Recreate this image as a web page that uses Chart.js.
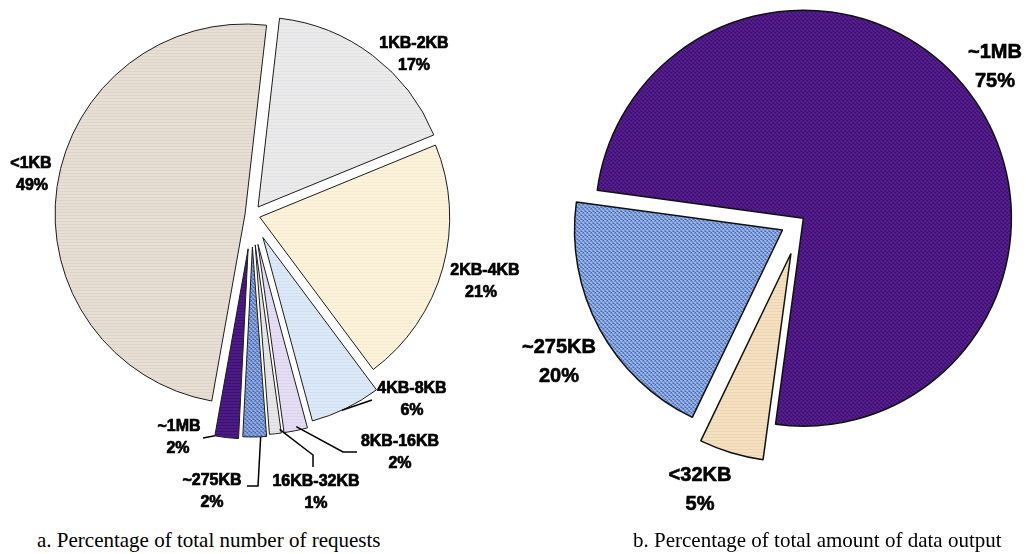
<!DOCTYPE html>
<html>
<head>
<meta charset="utf-8">
<script src="https://cdn.jsdelivr.net/npm/chart.js@4.4.1/dist/chart.umd.min.js"></script>
<style>
  html, body { margin: 0; padding: 0; background: #ffffff; }
  body { width: 1026px; height: 554px; position: relative; overflow: hidden; }
  canvas { position: absolute; top: 0; }
  #requests { left: 0; }
  #output { left: 500px; }
  .caption {
    position: absolute; top: 528px; line-height: 24px;
    font-family: "Liberation Serif", "Times New Roman", serif;
    font-size: 21px; color: #000; white-space: nowrap;
  }
</style>
</head>
<body>
<canvas id="requests" width="540" height="520"></canvas>
<canvas id="output" width="526" height="520"></canvas>
<div class="caption" style="left:37px">a. Percentage of total number of requests</div>
<div class="caption" style="left:633px">b. Percentage of total amount of data output</div>

<script>
// ---- data ----
const requestSizes  = ['1KB-2KB', '2KB-4KB', '4KB-8KB', '8KB-16KB', '16KB-32KB', '~275KB', '~1MB', '<1KB'];
const requestShares = [17, 21, 6, 2, 1, 2, 2, 49];

const outputSizes  = ['~1MB', '<32KB', '~275KB'];
const outputShares = [75, 5, 20];

// ---- fills: small tiles give the slices a printed texture ----
function tile(w, h, painter) {
  const c = document.createElement('canvas');
  c.width = w; c.height = h;
  const g = c.getContext('2d');
  painter(g);
  return g.createPattern(c, 'repeat');
}
function stripes(base, line) {
  return tile(1, 3, g => {
    g.fillStyle = base; g.fillRect(0, 0, 1, 3);
    g.fillStyle = line; g.fillRect(0, 2, 1, 1);
  });
}
function weave(a, b, c) {
  return tile(4, 4, g => {
    g.fillStyle = a; g.fillRect(0, 0, 4, 4);
    g.fillStyle = b; g.fillRect(0, 0, 2, 1); g.fillRect(2, 2, 2, 1); g.fillRect(1, 1, 1, 1); g.fillRect(3, 3, 1, 1);
    g.fillStyle = c; g.fillRect(3, 0, 1, 1); g.fillRect(1, 3, 1, 1);
  });
}

const requestFills = [
  stripes('#ebebeb', '#e2e2e4'),   // 1KB-2KB
  stripes('#fcf3da', '#f5ead2'),   // 2KB-4KB
  stripes('#dce9f8', '#d2dff0'),   // 4KB-8KB
  stripes('#e5def5', '#dad3ec'),   // 8KB-16KB
  stripes('#e8e8ea', '#dcdcdf'),   // 16KB-32KB
  weave('#6b89c9', '#8eabe3', '#4d66a3'), // ~275KB
  stripes('#4c1b86', '#3d1170'),   // ~1MB
  stripes('#e8dfd4', '#ddd3cb')    // <1KB
];
const outputFills = [
  weave('#4a167f', '#561f8f', '#3a0e68'), // ~1MB
  stripes('#f5e0bf', '#ead4b3'),          // <32KB
  weave('#7191d1', '#98b5ea', '#4d68a6')  // ~275KB
];

// ---- exploded slices: push each arc outward along its mid angle ----
const explodePlugin = {
  id: 'explode',
  afterDatasetUpdate(chart, args, opts) {
    const dist = opts.distances || [];
    chart.getDatasetMeta(args.index).data.forEach((arc, i) => {
      const mid = (arc.startAngle + arc.endAngle) / 2;
      const d = dist[i] || 0;
      arc.x += Math.cos(mid) * d;
      arc.y += Math.sin(mid) * d;
    });
  }
};

// ---- two-line slice labels with optional leader lines ----
const labelPlugin = {
  id: 'sliceLabels',
  afterDraw(chart, args, opts) {
    const ctx = chart.ctx;
    const area = chart.chartArea;
    const cx = (area.left + area.right) / 2;
    const cy = (area.top + area.bottom) / 2;
    const meta = chart.getDatasetMeta(0);
    const names = chart.data.labels;
    const values = chart.data.datasets[0].data;
    ctx.save();
    ctx.font = opts.font;
    ctx.fillStyle = '#000';
    ctx.textAlign = 'center';
    ctx.textBaseline = 'middle';
    opts.items.forEach((it, i) => {
      if (!it) return;
      const arc = meta.data[i];
      if (it.leader) {
        const a = arc.startAngle + it.leader.t * (arc.endAngle - arc.startAngle);
        const r = arc.outerRadius * it.leader.f;
        ctx.beginPath();
        ctx.moveTo(arc.x + Math.cos(a) * r, arc.y + Math.sin(a) * r);
        it.leader.path.forEach(p => ctx.lineTo(cx + p[0], cy + p[1]));
        ctx.lineWidth = 1.5;
        ctx.strokeStyle = '#000';
        ctx.stroke();
      }
      const x = cx + it.at[0], y = cy + it.at[1];
      const lines = [[names[i], x, y], [values[i] + '%', x + (it.dx2 || 0), y + opts.lineHeight]];
      ctx.lineWidth = opts.weight;
      ctx.strokeStyle = '#000';
      lines.forEach(([t, lx, ly]) => {
        ctx.strokeText(t, lx, ly);
        ctx.fillText(t, lx, ly);
      });
    });
    ctx.restore();
  }
};

Chart.register(explodePlugin, labelPlugin);

const common = {
  responsive: false,
  animation: false,
  events: [],
  plugins: { legend: { display: false }, tooltip: { enabled: false } }
};

new Chart(document.getElementById('requests'), {
  type: 'pie',
  data: {
    labels: requestSizes,
    datasets: [{
      data: requestShares,
      backgroundColor: requestFills,
      borderColor: '#1c1c1c',
      borderWidth: 1
    }]
  },
  options: {
    ...common,
    rotation: 6.5,
    radius: 190,
    layout: { padding: { left: 0, right: 36, top: 0, bottom: 90 } },
    plugins: {
      ...common.plugins,
      explode: { distances: [10, 8, 25, 30, 30, 32, 34, 7] },
      sliceLabels: {
        font: 'bold 16px "Liberation Sans", Arial, sans-serif',
        weight: 0.7,
        lineHeight: 22,
        items: [
          { at: [162, -171] },
          { at: [233, 56], dx2: -4 },
          { at: [160, 174], leader: { t: 0.56, f: 1, path: [[120, 185]] } },
          { at: [148, 227], leader: { t: 0.45, f: 0.98, path: [[91, 237], [105, 237]] } },
          { at: [64, 267], leader: { t: 0.1, f: 0.98, path: [[61, 240], [61, 252]] } },
          { at: [-40, 266], leader: { t: 0.25, f: 1, path: [[6, 271], [-5, 271]] } },
          { at: [-73, 212], dx2: -1, leader: { t: 1, f: 1, path: [[-49, 223]] } },
          { at: [-221, -51], dx2: 1 }
        ]
      }
    }
  }
});

new Chart(document.getElementById('output'), {
  type: 'pie',
  data: {
    labels: outputSizes,
    datasets: [{
      data: outputShares,
      backgroundColor: outputFills,
      borderColor: '#111111',
      borderWidth: 1.5
    }]
  },
  options: {
    ...common,
    rotation: -82.3,
    radius: 208,
    layout: { padding: { left: 76, right: 0, top: 0, bottom: 80 } },
    plugins: {
      ...common.plugins,
      explode: { distances: [3, 35, 21] },
      sliceLabels: {
        font: 'bold 20px "Liberation Sans", Arial, sans-serif',
        weight: 0.6,
        lineHeight: 29,
        items: [
          { at: [194, -168] },
          { at: [-101, 255] },
          { at: [-242, 127] }
        ]
      }
    }
  }
});
</script>
</body>
</html>
